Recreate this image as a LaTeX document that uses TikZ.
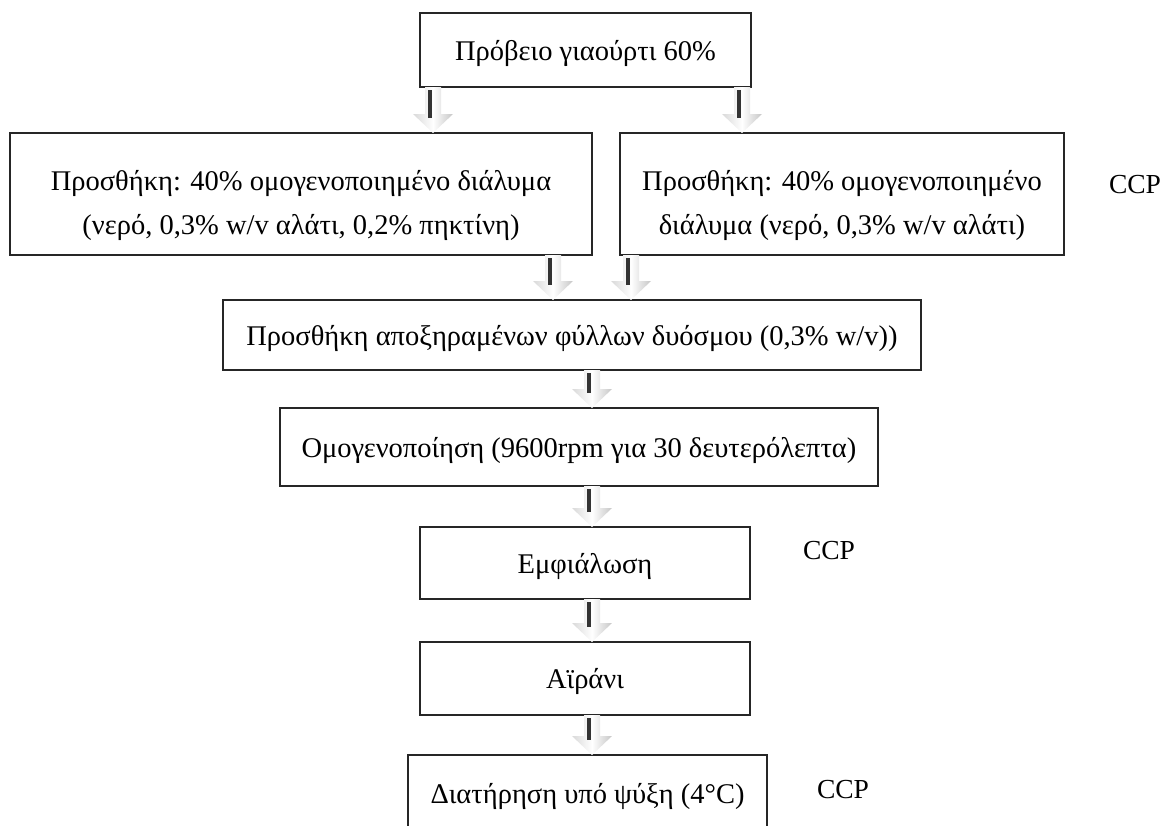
\documentclass[tikz,border=0pt]{standalone}
\usepackage{fontspec}
\setmainfont{Liberation Serif}
\usetikzlibrary{calc}
\tikzset{
  stage/.style={draw=black!85, line width=1.6pt, fill=white, inner sep=0pt, outer sep=0pt,
    align=center, text depth=0pt, font=\fontsize{28.5}{44}\selectfont},
  ccp/.style={font=\fontsize{27.5}{30}\selectfont},
  arrowbody/.style={left color=gray!30, right color=gray!45, middle color=white},
  arrowcore/.style={line width=4.5pt, black!80},
}
% block arrow from one box to the next
\newcommand{\flowarrow}[2]{%
  \path[arrowbody] let \p1=(#1), \p2=(#2) in
    (\x1-8pt,\y1) -- (\x1-8pt,\y2+19pt) -- (\x1-20pt,\y2+19pt) -- (\x1,\y2)
    -- (\x1+20pt,\y2+19pt) -- (\x1+8pt,\y2+19pt) -- (\x1+8pt,\y1) -- cycle;
  \draw[arrowcore] let \p1=(#1), \p2=(#2) in (\x1-3pt,\y1-3pt) -- (\x1-3pt,\y2+15pt);
}
\newcommand{\tallline}{\rule{0pt}{36pt}}
\begin{document}
\begin{tikzpicture}[x=1pt,y=-1pt]
\path[use as bounding box, clip] (0,0) rectangle (1162,825);

\coordinate (pT) at (585.5,50);
\coordinate (pL) at (301,194);
\coordinate (pR) at (842,194);
\coordinate (pM) at (572,335);
\coordinate (pH) at (579,447);
\coordinate (pE) at (585,563);
\coordinate (pA) at (585,678.5);
\coordinate (pD) at (587.5,793);   % κάτω πλευρά εκτός εικόνας

\node[stage, minimum width=331, minimum height=74] (yog) at (pT) {Πρόβειο γιαούρτι 60\%};
\node[stage, minimum width=582, minimum height=122] (solL) at (pL)
  {\tallline Προσθήκη: 40\% ομογενοποιημένο διάλυμα\\(νερό, 0,3\% w/v αλάτι, 0,2\% πηκτίνη)};
\node[stage, minimum width=444, minimum height=122] (solR) at (pR)
  {\tallline Προσθήκη: 40\% ομογενοποιημένο\\διάλυμα (νερό, 0,3\% w/v αλάτι)};
\node[stage, minimum width=698, minimum height=70] (mint) at (pM)
  {Προσθήκη αποξηραμένων φύλλων δυόσμου (0,3\% w/v))};
\node[stage, minimum width=598, minimum height=78] (homog) at (pH)
  {Ομογενοποίηση (9600rpm για 30 δευτερόλεπτα)};
\node[stage, minimum width=330, minimum height=72] (bottle) at (pE) {Εμφιάλωση};
\node[stage, minimum width=330, minimum height=73] (ayran) at (pA) {Αϊράνι};
\node[stage, minimum width=359, minimum height=76] (cool) at (pD) {Διατήρηση υπό ψύξη (4°C)};

\node[ccp] (ccp1) at (1135,185) {CCP};
\node[ccp] (ccp2) at (829,551) {CCP};
\node[ccp] (ccp3) at (843,790) {CCP};

\flowarrow{[xshift=13pt]yog.south west}{solL.north}
\flowarrow{[xshift=-9pt]yog.south east}{solR.north}
\flowarrow{[xshift=-39pt]solL.south east}{mint.north}
\flowarrow{[xshift=11pt]solR.south west}{mint.north}
\flowarrow{[xshift=20pt]mint.south}{homog.north}
\flowarrow{[xshift=13pt]homog.south}{bottle.north}
\flowarrow{[xshift=7pt]bottle.south}{ayran.north}
\flowarrow{[xshift=7pt]ayran.south}{cool.north}
\end{tikzpicture}
\end{document}
